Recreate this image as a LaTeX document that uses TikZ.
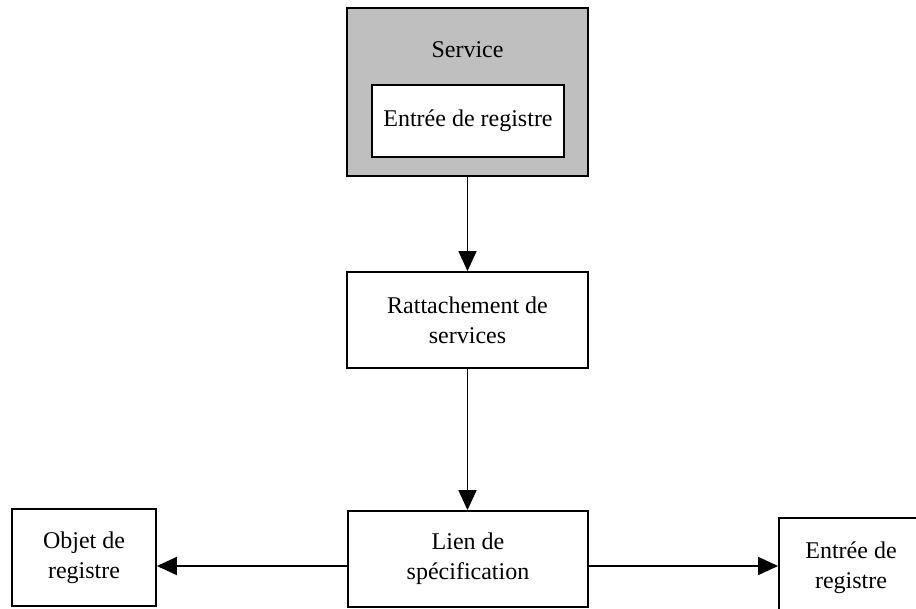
\documentclass[tikz,border=0pt]{standalone}
\usepackage{fontspec}
\setmainfont{Liberation Serif}
\usetikzlibrary{arrows.meta}
\tikzset{
  box/.style={draw, line width=0.9pt, align=center, inner sep=2pt,
    font=\fontsize{12}{15}\selectfont},
  link/.style={line width=0.9pt, -{Triangle[length=10pt,width=9pt]}}
}
\begin{document}
\begin{tikzpicture}[x=0.5pt, y=-0.5pt]
                \useasboundingbox (0,0) rectangle (916,609);
                \clip (0,0) rectangle (916,609);
                % Service with its entry
                \node[box, fill=black!25, minimum width=120.5pt, minimum height=84pt] (service) at (467.5,92) {};
                \node[font=\fontsize{12}{15}\selectfont] (servicename) at (467.5,50) {Service};
                \node[box, fill=white, minimum width=96pt, minimum height=36pt] (entry) at (468,121) {Entrée de registre};
                % Binding and specification link
                \node[box, minimum width=120.5pt, minimum height=48pt] (binding) at (467.5,320) {Rattachement de\\services};
                \node[box, minimum width=120pt, minimum height=48pt] (speclink) at (468,559) {Lien de\\spécification};
                % Bottom row
                \node[box, minimum width=72pt, minimum height=48.5pt] (regobject) at (84,557.5) {Objet de\\registre};
                \node[box, minimum width=72pt, minimum height=50pt] (regentry) at (851,568) {Entrée de\\registre};
                % Arrows
                \draw[link] (service) -- (binding);
                \draw[link] (binding.south) -- (binding.south |- speclink.north);
                \draw[link] (speclink.west |- 0,566) -- (regobject.east |- 0,566);
                \draw[link] (speclink.east |- 0,566) -- (regentry.west |- 0,566);
            \end{tikzpicture}
\end{document}
